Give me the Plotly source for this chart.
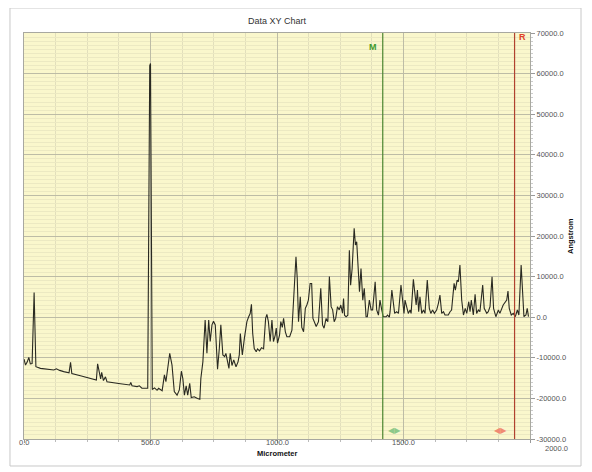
import plotly.graph_objects as go

# ---- data ----
micrometer = [
    0, 6, 13, 19, 25, 32, 40, 47, 65, 90, 118, 128, 134, 141, 157, 178, 184, 189, 223, 263,
    286, 291, 297, 303, 307, 314, 322, 328, 381, 418, 422, 427, 447, 456, 466, 480, 489, 497,
    500, 507, 516, 526, 532, 546, 555, 561, 567, 576, 585, 594, 605, 614, 622, 628, 634, 641,
    647, 655, 661, 673, 686, 695, 699, 707, 716, 723, 730, 736, 743, 749, 756, 765, 772, 778,
    786, 793, 798, 805, 810, 815, 822, 829, 838, 846, 851, 855, 863, 871, 876, 881, 888, 894,
    899, 904, 910, 918, 923, 931, 939, 947, 955, 960, 966, 973, 980, 986, 993, 997, 1002, 1010,
    1015, 1021, 1026, 1033, 1039, 1050, 1059, 1065, 1075, 1080, 1085, 1092, 1098, 1105, 1112,
    1118, 1124, 1131, 1137, 1142, 1148, 1155, 1164, 1173, 1180, 1186, 1194, 1201, 1207, 1214,
    1220, 1226, 1232, 1239, 1246, 1252, 1259, 1263, 1267, 1273, 1280, 1286, 1291, 1297, 1305,
    1310, 1315, 1322, 1326, 1332, 1339, 1345, 1352, 1357, 1365, 1372, 1378, 1388, 1394, 1401,
    1407, 1414, 1420, 1431, 1437, 1444, 1447, 1454, 1460, 1465, 1473, 1480, 1490, 1497, 1502,
    1506, 1513, 1519, 1526, 1530, 1539, 1546, 1550, 1555, 1560, 1565, 1572, 1579, 1585, 1594,
    1602, 1608, 1615, 1622, 1631, 1638, 1644, 1651, 1658, 1664, 1677, 1684, 1690, 1700, 1705,
    1712, 1717, 1723, 1730, 1737, 1744, 1750, 1758, 1763, 1768, 1776, 1783, 1789, 1796, 1802,
    1813, 1819, 1829, 1835, 1842, 1850, 1856, 1865, 1875, 1881, 1889, 1894, 1908, 1913, 1918,
    1926, 1934, 1942, 1950, 1956, 1965, 1971, 1976, 1984, 1989, 1994,
]
angstrom = [
    -10300, -11800, -11000, -9900, -11500, -11400, 6100, -12200, -12600, -12800, -13000, -12700,
    -12800, -13100, -13400, -13700, -11100, -13900, -14400, -15200, -15500, -11500, -13800,
    -15200, -13600, -15600, -14700, -15900, -16400, -16700, -16100, -16900, -17100, -16900,
    -17500, -17600, -17500, 62000, 62500, -17800, -17400, -18000, -17500, -18100, -14200,
    -15900, -13400, -8900, -11800, -18300, -19200, -17900, -13300, -15200, -19200, -16900,
    -19200, -16300, -19800, -19600, -20000, -20200, -15100, -11000, -700, -8900, -700, -6000,
    -1900, -1000, -1900, -12800, -7700, -1900, -9300, -9700, -8900, -11400, -12600, -8900,
    -11900, -10500, -12200, -11000, -9300, -4000, -9300, -5200, -3600, -1100, 100, 900, 3200,
    -4000, -7700, -8500, -7800, -8300, -7500, -7800, -300, 700, -1100, -6000, -700, -6000,
    -4400, -2700, -6400, -4400, -1100, -2500, -300, -3600, -4800, -4800, -3200, 3000, 14900,
    9600, -1100, 5000, -2500, -3600, 2200, 3000, 4200, 8300, 8300, -300, -1500, -2300, -1100,
    7100, -1900, -2700, -300, -1100, 10000, 2600, 1800, -1100, -300, 2600, 1800, 3000, 1000,
    4600, 500, 100, 500, 16500, 7900, 12000, 21900, 17800, 18600, 12400, 6300, 12000, 4200,
    7100, 100, 100, 4200, 1800, 1800, 8700, 1800, 500, 4200, 1800, 100, 100, 500, 0, 1355,
    6690, 3818, 944, 1355, 944, 7923, 2997, 944, 4229, 2586, 944, 1765, 944, 9319, 3818, 2997,
    6690, 1355, 5050, 944, 1765, 944, 9155, 2176, 944, 1765, 944, 1765, 3407, 5460, 944, 1355,
    534, 534, 1355, 1765, 8334, 6690, 9155, 8744, 12849, 4229, 534, 2176, 944, 3818, 1355,
    4229, 534, 5624, 944, 1765, 1355, 7923, 2176, 944, 1355, 2586, 9975, 2176, 124, 1765, 944,
    2176, 2997, 4229, 6445, 2176, 534, 944, 124, 1765, 534, 12849, 6281, 124, 534, 2176, 124,
]

x_tick_vals = [0, 500, 1000, 1500, 2000]
x_tick_text = ["0.0", "500.0", "1000.0", "1500.0", "2000.0"]
y_tick_vals = [70000, 60000, 50000, 40000, 30000, 20000, 10000, 0, -10000, -20000, -30000]
y_tick_text = ["70000.0", "60000.0", "50000.0", "40000.0", "30000.0", "20000.0",
               "10000.0", "0.0", "-10000.0", "-20000.0", "-30000.0"]

marker_m = 1418
marker_r = 1939
handle_m = 1465
handle_r = 1885
handle_level = -28000

FONT = "Liberation Sans, Arial, sans-serif"
TICK_FONT = dict(size=7.5, color="#555555", family=FONT)

fig = go.Figure()
fig.add_trace(go.Scatter(
    x=micrometer, y=angstrom, mode="lines",
    line=dict(color="#2a2a22", width=1.1),
    showlegend=False, hoverinfo="skip",
))

annotations = [
    dict(x=marker_m, y=0.965, xref="x", yref="paper", text="<b>M</b>", showarrow=False,
         xanchor="right", yanchor="middle", xshift=-4,
         font=dict(color="#3f9a2c", size=9, family=FONT)),
    dict(x=marker_r, y=0.99, xref="x", yref="paper", text="<b>R</b>", showarrow=False,
         xanchor="left", yanchor="middle", xshift=2,
         font=dict(color="#e0402a", size=9, family=FONT)),
    dict(x=handle_m, y=handle_level, xref="x", yref="y", text="◀▶", showarrow=False,
         xanchor="center", yanchor="middle",
         font=dict(color="#8cc98a", size=8, family="DejaVu Sans")),
    dict(x=handle_r, y=handle_level, xref="x", yref="y", text="◀▶", showarrow=False,
         xanchor="center", yanchor="middle",
         font=dict(color="#f08a72", size=8, family="DejaVu Sans")),
    dict(x=0.5, y=-0.0355, xref="paper", yref="paper", text="<b>Micrometer</b>",
         showarrow=False, xanchor="center", yanchor="middle",
         font=dict(color="#111111", size=7.5, family=FONT)),
    dict(x=1.079, y=0.5, xref="paper", yref="paper", text="<b>Angstrom</b>", textangle=-90,
         showarrow=False, xanchor="center", yanchor="middle",
         font=dict(color="#111111", size=7.5, family=FONT)),
]
# x tick labels drawn close under the axis (last one is offset to the right, as in the source)
for v, t in zip(x_tick_vals, x_tick_text):
    is_last = v == x_tick_vals[-1]
    annotations.append(dict(
        x=v, y=-0.0235 if is_last else -0.0095, xref="x", yref="paper", text=t,
        showarrow=False, xanchor="center", yanchor="middle",
        xshift=26 if is_last else 0, font=TICK_FONT))

# the page body adds an 8px offset, so margins are reduced accordingly
fig.update_layout(
    width=592, height=472,
    margin=dict(l=16, r=70, t=25, b=41),
    paper_bgcolor="white",
    plot_bgcolor="#FAF7CC",
    title=dict(text="Data XY Chart", x=0.5, xref="paper", y=1 - 13 / 472, yanchor="middle",
               font=dict(size=9, color="#333333", family=FONT)),
    annotations=annotations,
    shapes=[
        dict(type="rect", xref="paper", yref="paper", x0=-0.0277, x1=1.1008,
             y0=-0.0665, y1=1.0616, line=dict(color="#c8c8c8", width=1),
             fillcolor="rgba(0,0,0,0)", layer="below"),
        dict(type="line", xref="x", yref="paper", x0=marker_m, x1=marker_m, y0=0, y1=1,
             line=dict(color="#4a8530", width=1.2)),
        dict(type="line", xref="x", yref="paper", x0=marker_r, x1=marker_r, y0=0, y1=1,
             line=dict(color="#b0412f", width=1.2)),
    ],
    xaxis=dict(
        range=[0, 2000], tickmode="array", tickvals=x_tick_vals, showticklabels=False,
        showgrid=True, gridcolor="#BDBCA6", gridwidth=1,
        ticks="outside", ticklen=3, tickcolor="#999999",
        showline=True, linecolor="#a8a8a0", mirror=True, zeroline=False,
        minor=dict(tickmode="linear", tick0=0, dtick=125, showgrid=True,
                   gridcolor="#E2DFBC", ticks="outside", ticklen=2, tickcolor="#bbbbbb"),
    ),
    yaxis=dict(
        range=[-30000, 70000], side="right", tickmode="array", tickvals=y_tick_vals,
        ticktext=y_tick_text, showgrid=True, gridcolor="#BDBCA6", gridwidth=1,
        ticks="outside", ticklen=4, tickcolor="#999999", tickfont=TICK_FONT,
        showline=True, linecolor="#a8a8a0", mirror=True, zeroline=False,
        minor=dict(tickmode="linear", tick0=0, dtick=1000, showgrid=True,
                   gridcolor="#ECE9C2", ticks="outside", ticklen=2, tickcolor="#cccccc"),
    ),
)

fig.write_html("out.html")
